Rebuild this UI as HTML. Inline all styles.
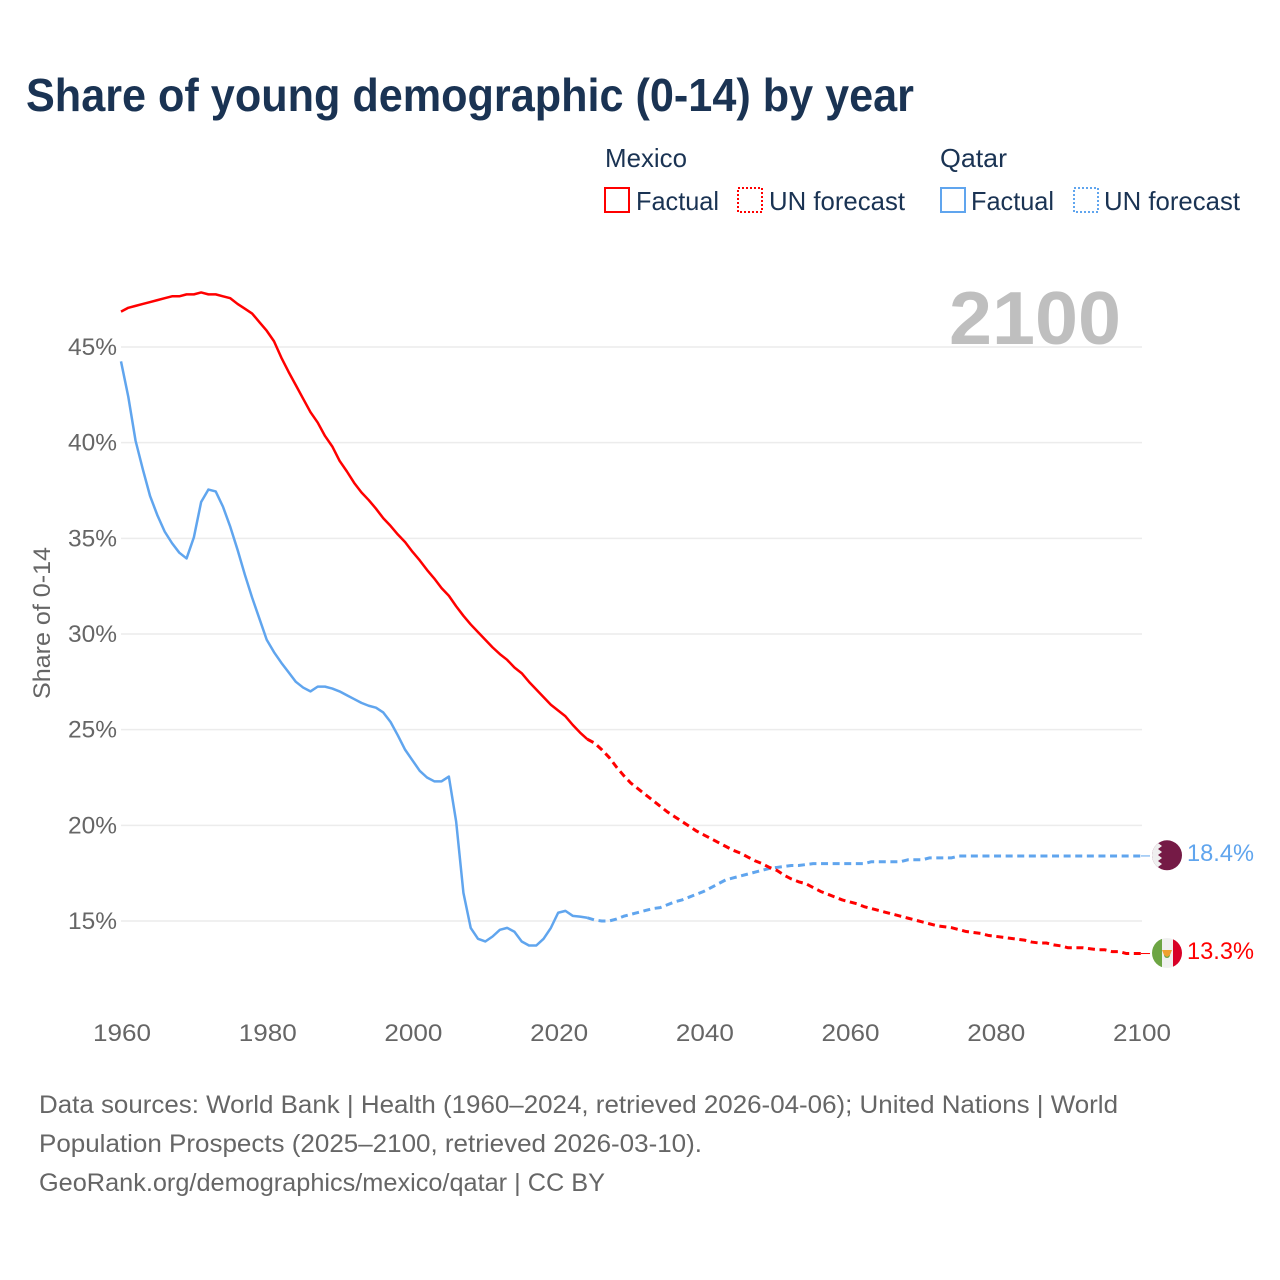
<!DOCTYPE html>
<html lang="en">
<head>
<meta charset="utf-8">
<title>Share of young demographic (0-14) by year</title>
<style>
html,body{margin:0;padding:0;background:#fff;}
svg{display:block;font-family:"Liberation Sans",sans-serif;}
</style>
</head>
<body>
<svg id="chart" xmlns="http://www.w3.org/2000/svg" width="1280" height="1280" viewBox="0 0 1280 1280">
  <rect x="0" y="0" width="1280" height="1280" fill="#fff"/>
  <text x="26" y="111" font-size="46" font-weight="700" fill="#1a3353" textLength="888" lengthAdjust="spacingAndGlyphs">Share of young demographic (0-14) by year</text>

  <g font-size="26" fill="#1a3353">
    <text x="605" y="167" textLength="82" lengthAdjust="spacingAndGlyphs">Mexico</text>
    <text x="940" y="167" textLength="67" lengthAdjust="spacingAndGlyphs">Qatar</text>
    <rect x="605" y="188" width="24" height="24" fill="none" stroke="#ff0000" stroke-width="2"/>
    <text x="636" y="210" textLength="83" lengthAdjust="spacingAndGlyphs">Factual</text>
    <rect x="738" y="188" width="24" height="24" fill="none" stroke="#ff0000" stroke-width="2" stroke-dasharray="2 2"/>
    <text x="769" y="210" textLength="136" lengthAdjust="spacingAndGlyphs">UN forecast</text>
    <rect x="941" y="188" width="24" height="24" fill="none" stroke="#60a5ee" stroke-width="2"/>
    <text x="971" y="210" textLength="83" lengthAdjust="spacingAndGlyphs">Factual</text>
    <rect x="1074" y="188" width="24" height="24" fill="none" stroke="#60a5ee" stroke-width="2" stroke-dasharray="2 2"/>
    <text x="1104" y="210" textLength="136" lengthAdjust="spacingAndGlyphs">UN forecast</text>
  </g>

  <g id="grid"></g>
  <text x="949" y="344" font-size="75" font-weight="700" fill="#bfbfbf" textLength="172" lengthAdjust="spacingAndGlyphs">2100</text>
  <g id="yticks" font-size="24" fill="#666" text-anchor="end"></g>
  <g id="xticks" font-size="24" fill="#666" text-anchor="middle"></g>
  <text transform="translate(50 623) rotate(-90)" font-size="24" fill="#666" text-anchor="middle" textLength="152" lengthAdjust="spacingAndGlyphs">Share of 0-14</text>

  <g id="series"></g>

  <defs>
    <clipPath id="flag-clip-qatar"><circle cx="1167" cy="855.3" r="15"/></clipPath>
    <clipPath id="flag-clip-mexico"><circle cx="1167" cy="953" r="15"/></clipPath>
  </defs>
  <g clip-path="url(#flag-clip-qatar)">
    <rect x="1152" y="840" width="30" height="31" fill="#751a46"/>
    <polygon fill="#efefef" points="1152,840 1162,840 1158,843 1162,846 1158,849 1162,852 1158,855 1162,858 1158,861 1162,864 1158,867 1162,871 1152,871"/>
  </g>
  <g clip-path="url(#flag-clip-mexico)">
    <rect x="1152" y="938" width="10" height="30" fill="#6da544"/>
    <rect x="1162" y="938" width="11" height="30" fill="#f0f0f0"/>
    <rect x="1173" y="938" width="9" height="30" fill="#d80027"/>
    <circle cx="1167" cy="955" r="3" fill="#6da544"/>
    <polygon fill="#f0a030" points="1162,950 1172,950 1170,955 1167,957 1164,955"/>
  </g>
  <text x="1187" y="861" font-size="24" fill="#60a5ee" textLength="67" lengthAdjust="spacingAndGlyphs">18.4%</text>
  <text x="1187" y="959" font-size="24" fill="#ff0000" textLength="67" lengthAdjust="spacingAndGlyphs">13.3%</text>

  <g font-size="25" fill="#666">
    <text x="39" y="1113" textLength="1079" lengthAdjust="spacingAndGlyphs">Data sources: World Bank | Health (1960–2024, retrieved 2026-04-06); United Nations | World</text>
    <text x="39" y="1152" textLength="663" lengthAdjust="spacingAndGlyphs">Population Prospects (2025–2100, retrieved 2026-03-10).</text>
    <text x="39" y="1191" textLength="566" lengthAdjust="spacingAndGlyphs">GeoRank.org/demographics/mexico/qatar | CC BY</text>
  </g>
</svg>
<script>
const xTickYears = [1960, 1980, 2000, 2020, 2040, 2060, 2080, 2100];
const yTickValues = [15, 20, 25, 30, 35, 40, 45];
const factualStartYear = 1960;
const forecastStartYear = 2024;
const mexicoFactual = [46.85,47.05,47.15,47.25,47.35,47.45,47.55,47.65,47.65,47.75,47.75,47.85,47.75,47.75,47.65,47.55,47.25,47.0,46.75,46.3,45.85,45.3,44.45,43.7,43.0,42.3,41.6,41.05,40.35,39.8,39.05,38.5,37.9,37.4,37.0,36.55,36.05,35.65,35.2,34.8,34.3,33.85,33.35,32.9,32.4,32.0,31.45,30.95,30.5,30.1,29.7,29.3,28.95,28.65,28.25,27.95,27.5,27.1,26.7,26.3,26.0,25.7,25.25,24.85,24.5];
const mexicoForecast = [24.5,24.3,23.95,23.55,23.05,22.6,22.2,21.9,21.6,21.3,21.0,20.7,20.45,20.2,19.95,19.7,19.5,19.3,19.1,18.9,18.7,18.55,18.35,18.15,18.0,17.8,17.65,17.4,17.2,17.05,16.95,16.75,16.55,16.4,16.25,16.1,16.0,15.9,15.75,15.65,15.55,15.45,15.35,15.25,15.15,15.05,14.95,14.85,14.75,14.7,14.65,14.55,14.45,14.4,14.35,14.25,14.2,14.15,14.1,14.05,14.0,13.9,13.85,13.85,13.75,13.7,13.6,13.6,13.6,13.55,13.5,13.5,13.4,13.4,13.3,13.3,13.3];
const qatarFactual = [44.25,42.4,40.1,38.6,37.2,36.2,35.35,34.75,34.25,33.95,35.05,36.9,37.55,37.45,36.65,35.6,34.4,33.1,31.9,30.8,29.7,29.05,28.5,28.0,27.5,27.2,27.0,27.25,27.25,27.15,27.0,26.8,26.6,26.4,26.25,26.15,25.9,25.4,24.7,23.95,23.4,22.85,22.5,22.3,22.3,22.55,20.2,16.47,14.64,14.07,13.93,14.19,14.54,14.64,14.44,13.93,13.72,13.72,14.07,14.64,15.43,15.53,15.27,15.23,15.17];
const qatarForecast = [15.17,15.05,15.0,15.0,15.1,15.25,15.35,15.45,15.55,15.65,15.7,15.85,16.0,16.1,16.25,16.4,16.55,16.75,16.95,17.15,17.25,17.35,17.45,17.55,17.65,17.75,17.8,17.85,17.9,17.9,17.95,18.0,18.0,18.0,18.0,18.0,18.0,18.0,18.0,18.1,18.1,18.1,18.1,18.1,18.2,18.2,18.2,18.3,18.3,18.3,18.3,18.4,18.4,18.4,18.4,18.4,18.4,18.4,18.4,18.4,18.4,18.4,18.4,18.4,18.4,18.4,18.4,18.4,18.4,18.4,18.4,18.4,18.4,18.4,18.4,18.4,18.4];

const NS = 'http://www.w3.org/2000/svg';
function xScale(year) { return 121 + (year - 1960) * (1141 - 121) / 140; }
function yScale(value) { return 921 - (value - 15) * (921 - 347) / 30; }
function pathFrom(values, startYear) {
  return values.map(function (v, i) {
    return (i ? 'L' : 'M') + xScale(startYear + i).toFixed(2) + ' ' + yScale(v).toFixed(2);
  }).join(' ');
}

const grid = document.getElementById('grid');
const yticks = document.getElementById('yticks');
yTickValues.forEach(function (v) {
  const line = document.createElementNS(NS, 'line');
  
  
  line.setAttribute('x1', xScale(1960));
  line.setAttribute('x2', xScale(2100) + 1);
  line.setAttribute('y1', yScale(v));
  line.setAttribute('y2', yScale(v));
  line.setAttribute('stroke', '#ececec');
  line.setAttribute('stroke-width', '1.5');
  grid.appendChild(line);
  const label = document.createElementNS(NS, 'text');
  
  
  label.setAttribute('x', 117);
  label.setAttribute('y', yScale(v) + 8);
  label.setAttribute('textLength', '49');
  label.setAttribute('lengthAdjust', 'spacingAndGlyphs');
  label.textContent = v + '%';
  yticks.appendChild(label);
});

const xticks = document.getElementById('xticks');
xTickYears.forEach(function (yr) {
  const label = document.createElementNS(NS, 'text');
  
  
  label.setAttribute('x', xScale(yr) + 1);
  label.setAttribute('y', 1041);
  label.setAttribute('textLength', '58');
  label.setAttribute('lengthAdjust', 'spacingAndGlyphs');
  label.textContent = yr;
  xticks.appendChild(label);
});

const series = document.getElementById('series');
function addLine(name, values, startYear, color, dashed) {
  const p = document.createElementNS(NS, 'path');
  
  
  p.setAttribute('d', pathFrom(values, startYear));
  p.setAttribute('fill', 'none');
  p.setAttribute('stroke', color);
  p.setAttribute('stroke-width', dashed ? '3' : '2.5');
  p.setAttribute('stroke-linejoin', 'round');
  if (dashed) {
    p.setAttribute('stroke-dasharray', '7 4.6');
  }
  series.appendChild(p);
}
function addConnector(name, value, color) {
  const c = document.createElementNS(NS, 'line');
  
  
  c.setAttribute('x1', xScale(2100));
  c.setAttribute('x2', xScale(2100) + 9);
  c.setAttribute('y1', yScale(value));
  c.setAttribute('y2', yScale(value));
  c.setAttribute('stroke', color);
  c.setAttribute('stroke-width', '1');
  series.appendChild(c);
}
addLine('line-qatar-factual', qatarFactual, factualStartYear, '#60a5ee', false);
addLine('line-qatar-forecast', qatarForecast, forecastStartYear, '#60a5ee', true);
addLine('line-mexico-factual', mexicoFactual, factualStartYear, '#ff0000', false);
addLine('line-mexico-forecast', mexicoForecast, forecastStartYear, '#ff0000', true);
addConnector('connector-qatar', qatarForecast[qatarForecast.length - 1], '#60a5ee');
addConnector('connector-mexico', mexicoForecast[mexicoForecast.length - 1], '#ff0000');
</script>
</body>
</html>
